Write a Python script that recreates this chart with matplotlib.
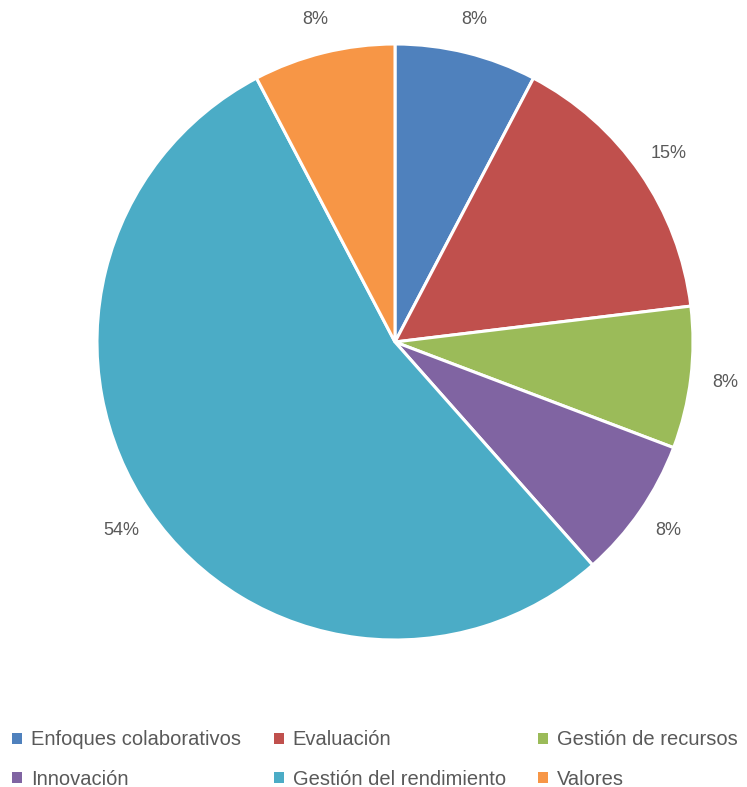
import matplotlib
matplotlib.use("Agg")
import matplotlib.pyplot as plt

# categories and counts per category (13 responses in total)
categories = ["Enfoques colaborativos", "Evaluación", "Gestión de recursos",
              "Innovación", "Gestión del rendimiento", "Valores"]
counts = [1, 2, 1, 1, 7, 1]
colors = ["#4F81BD", "#C0504D", "#9BBB59", "#8064A2", "#4BACC6", "#F79646"]

plt.rcParams["font.family"] = ["Liberation Sans", "DejaVu Sans"]

W, H = 747, 787
fig = plt.figure(figsize=(W / 100, H / 100), dpi=100)
cx, cy, r = 395, 342, 298
ax = fig.add_axes([(cx - r) / W, (H - cy - r) / H, 2 * r / W, 2 * r / H])

wedges, _, autotexts = ax.pie(
    counts, colors=colors, startangle=90, counterclock=False,
    autopct=lambda p: f"{p:.0f}%", pctdistance=1.115, radius=1,
    wedgeprops=dict(edgecolor="white", linewidth=2.2),
    textprops=dict(color="#595959", fontsize=13))
ax.set_xlim(-1, 1); ax.set_ylim(-1, 1)
ax.set_aspect("equal")
ax.axis("off")

# legend filled row by row: reorder for matplotlib's column-major layout
order = [0, 3, 1, 4, 2, 5]
leg = fig.legend([wedges[i] for i in order], [categories[i] for i in order],
                 ncol=3, loc="lower left", bbox_to_anchor=(-0.008, -0.025),
                 frameon=False, fontsize=14.5, handlelength=0.5, handleheight=0.5,
                 handletextpad=0.45, columnspacing=1.6, labelspacing=1.0,
                 labelcolor="#595959")
for h in leg.legend_handles:
    h.set_edgecolor("none")

fig.savefig("out.png", dpi=100)
